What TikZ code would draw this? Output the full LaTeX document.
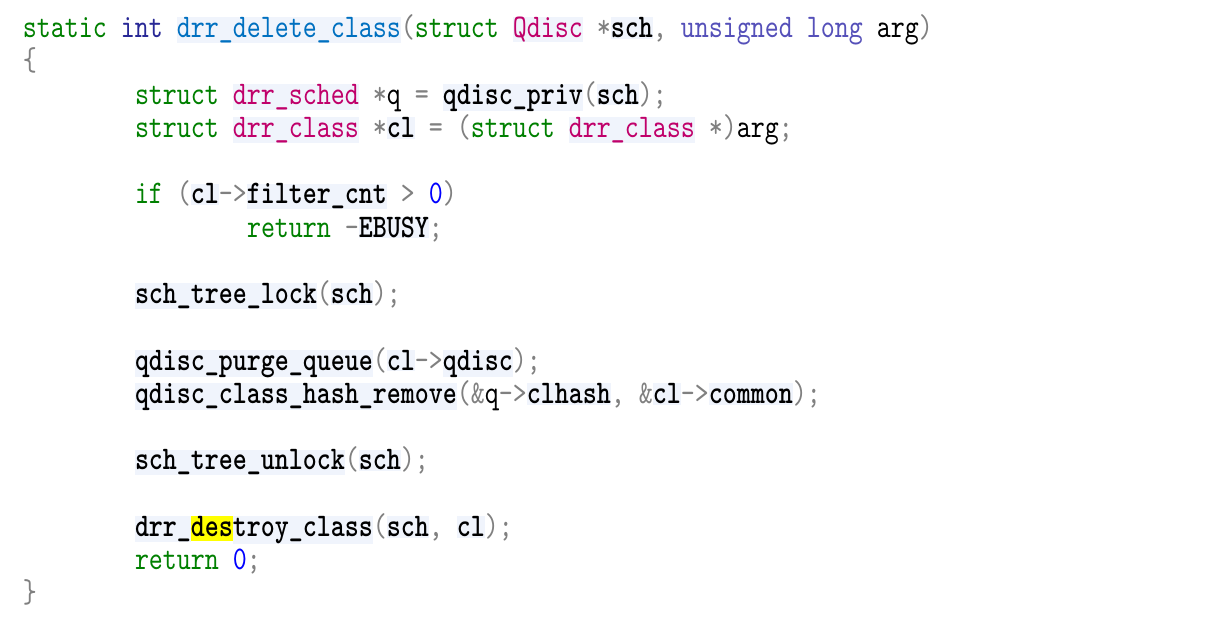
\documentclass[tikz,border=0pt]{standalone}
\usepackage{fontspec}
\usetikzlibrary{positioning}
\newfontfamily\zcode[FakeStretch=0.808]{lmmono10-regular.otf}
\newfontfamily\zcodebf[FakeStretch=0.808]{lmmonolt10-bold.otf}
\definecolor{zkwc}{RGB}{0,128,0}
\definecolor{zintc}{RGB}{40,40,150}
\definecolor{zulc}{RGB}{85,80,185}
\definecolor{zfnc}{RGB}{0,112,192}
\definecolor{ztyc}{RGB}{192,0,106}
\definecolor{zpuc}{RGB}{128,128,128}
\definecolor{znumc}{RGB}{0,0,255}
\definecolor{zhlbg}{RGB}{240,244,252}
\definecolor{zyelc}{RGB}{255,255,0}
\newcommand\zs{\hspace*{14pt}}
\newcommand\zkw[1]{\textcolor{zkwc}{#1}}
\newcommand\zint[1]{\textcolor{zintc}{#1}}
\newcommand\zul[1]{\textcolor{zulc}{#1}}
\newcommand\zpu[1]{\textcolor{zpuc}{#1}}
\newcommand\znum[1]{\textcolor{znumc}{#1}}
\newcommand\zbg[1]{{\setlength\fboxsep{0pt}\colorbox{zhlbg}{\rule[-1.2pt]{0pt}{21.5pt}#1}}}
\newcommand\zfn[1]{\zbg{\textcolor{zfnc}{#1}}}
\newcommand\zty[1]{\zbg{\textcolor{ztyc}{#1}}}
\newcommand\zid[1]{\zbg{{\zcodebf #1}}}
\newcommand\zyel[1]{{\setlength\fboxsep{0pt}\colorbox{zyelc}{\rule[-4.5pt]{0pt}{23.5pt}{\zcodebf #1}}}}
\tikzset{codeline/.style={anchor=base west, inner sep=0pt, outer sep=0pt, text=black, font=\zcode\fontsize{33}{34}\selectfont}}
\begin{document}
\begin{tikzpicture}[x=1pt,y=-1pt]
\fill[white] (0,0) rectangle (1221,616);
\useasboundingbox (0,0) rectangle (1221,616);
\def\zb#1{37.7+33.24*#1}
\node[codeline] (l0) at (23,{\zb{0}}) {\zkw{static}\zs\zint{int}\zs\zfn{drr\_delete\_class}\zpu{(}\zkw{struct}\zs\zty{Qdisc}\zs\zpu{*}\zid{sch}\zpu{,}\zs\zul{unsigned}\zs\zul{long}\zs arg\zpu{)}};
\node[codeline] (l1) at (23,{\zb{1}}) {\zpu{\{}};
\node[codeline] (l2) at (135,{\zb{2}}) {\zkw{struct}\zs\zty{drr\_sched}\zs\zpu{*}q\zs\zpu{=}\zs\zid{qdisc\_priv}\zpu{(}\zid{sch}\zpu{);}};
\node[codeline] (l3) at (135,{\zb{3}}) {\zkw{struct}\zs\zty{drr\_class}\zs\zpu{*}\zid{cl}\zs\zpu{=}\zs\zpu{(}\zkw{struct}\zs\zty{drr\_class}\zs\zpu{*)}arg\zpu{;}};
\node[codeline] (l5) at (135,{\zb{5}}) {\zkw{if}\zs\zpu{(}\zid{cl}\zpu{->}\zid{filter\_cnt}\zs\zpu{>}\zs\znum{0}\zpu{)}};
\node[codeline] (l6) at (247,{\zb{6}}) {\zkw{return}\zs\zpu{-}\zid{EBUSY}\zpu{;}};
\node[codeline] (l8) at (135,{\zb{8}}) {\zid{sch\_tree\_lock}\zpu{(}\zid{sch}\zpu{);}};
\node[codeline] (l10) at (135,{\zb{10}}) {\zid{qdisc\_purge\_queue}\zpu{(}\zid{cl}\zpu{->}\zid{qdisc}\zpu{);}};
\node[codeline] (l11) at (135,{\zb{11}}) {\zid{qdisc\_class\_hash\_remove}\zpu{(\&}q\zpu{->}\zid{clhash}\zpu{,}\zs\zpu{\&}\zid{cl}\zpu{->}\zid{common}\zpu{);}};
\node[codeline] (l13) at (135,{\zb{13}}) {\zid{sch\_tree\_unlock}\zpu{(}\zid{sch}\zpu{);}};
\node[codeline] (l15) at (135,{\zb{15}}) {\zid{drr\_}\zyel{des}\zid{troy\_class}\zpu{(}\zid{sch}\zpu{,}\zs\zid{cl}\zpu{);}};
\node[codeline] (l16) at (135,{\zb{16}}) {\zkw{return}\zs\znum{0}\zpu{;}};
\node[codeline] (l17) at (23,{\zb{17}}) {\zpu{\}}};
\end{tikzpicture}
\end{document}
